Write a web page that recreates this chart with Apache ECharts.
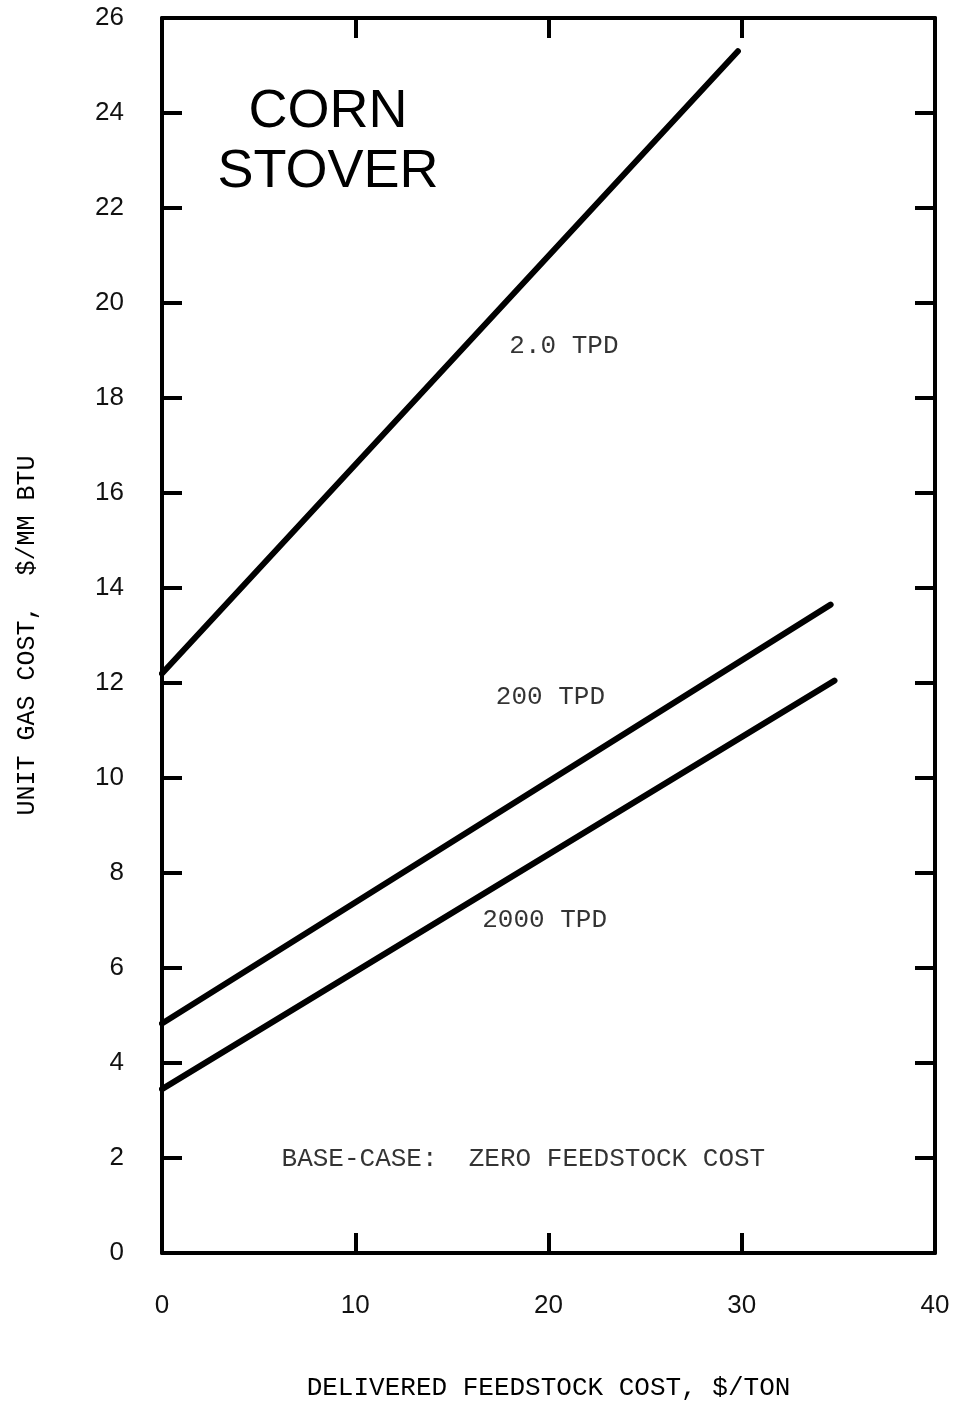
<!DOCTYPE html>
<html>
<head>
<meta charset="utf-8">
<script src="https://cdn.jsdelivr.net/npm/echarts@6/dist/echarts.min.js"></script>
<style>
html,body{margin:0;padding:0;background:#fff;}
#chart{width:955px;height:1406px;}
</style>
</head>
<body>
<div id="chart"></div>
<script>
// ---- data ----
var xTicks = [0, 10, 20, 30, 40];
var yTicks = [0, 2, 4, 6, 8, 10, 12, 14, 16, 18, 20, 22, 24, 26];
var seriesNames = ['2.0 TPD', '200 TPD', '2000 TPD'];
var line2TPD = [[0, 12.2], [29.8, 25.3]];
var line200TPD = [[0, 4.83], [34.6, 13.65]];
var line2000TPD = [[0, 3.45], [34.8, 12.05]];
var annotationTexts = ['2.0 TPD', '200 TPD', '2000 TPD', 'BASE-CASE:  ZERO FEEDSTOCK COST'];
var annotationX = [20.8, 20.1, 19.8, 18.7];
var annotationY = [19.1, 11.7, 7.0, 1.98];
var titleLines = ['CORN', 'STOVER'];
var xAxisTitle = 'DELIVERED FEEDSTOCK COST, $/TON';
var yAxisTitle = 'UNIT GAS COST,  $/MM BTU';

var mono = '"Liberation Mono", "DejaVu Sans Mono", monospace';
var sans = '"Liberation Sans", Arial, sans-serif';

var chart = echarts.init(document.getElementById('chart'));

var axisLine = {show: true, onZero: false, lineStyle: {color: '#000', width: 4}};
var tick = {show: true, inside: true, length: 20, lineStyle: {color: '#000', width: 4}};

var annData = annotationTexts.map(function (t, i) {
  return {name: t, value: [annotationX[i], annotationY[i]]};
});

var option = {
  backgroundColor: '#fff',
  animation: false,
  grid: {left: 162, right: 20, top: 18, bottom: 151, containLabel: false},
  xAxis: [{
    type: 'value', min: xTicks[0], max: xTicks[xTicks.length - 1], interval: 10,
    position: 'bottom',
    axisLine: axisLine, axisTick: tick, splitLine: {show: false},
    axisLabel: {margin: 40, fontSize: 26, color: '#111', fontFamily: sans},
    name: xAxisTitle, nameLocation: 'middle', nameGap: 122,
    nameTextStyle: {fontSize: 26, color: '#000', fontFamily: mono}
  }, {
    type: 'value', min: xTicks[0], max: xTicks[xTicks.length - 1], interval: 10,
    position: 'top',
    axisLine: axisLine, axisTick: tick, splitLine: {show: false},
    axisLabel: {show: false}
  }],
  yAxis: [{
    type: 'value', min: yTicks[0], max: yTicks[yTicks.length - 1], interval: 2,
    position: 'left',
    axisLine: axisLine, axisTick: tick, splitLine: {show: false},
    axisLabel: {margin: 38, fontSize: 26, color: '#111', fontFamily: sans},
    name: yAxisTitle, nameLocation: 'middle', nameGap: 122, nameRotate: 90,
    nameTextStyle: {fontSize: 25, color: '#000', fontFamily: mono}
  }, {
    type: 'value', min: yTicks[0], max: yTicks[yTicks.length - 1], interval: 2,
    position: 'right',
    axisLine: axisLine, axisTick: tick, splitLine: {show: false},
    axisLabel: {show: false}
  }],
  series: [
    {name: seriesNames[0], type: 'line', data: line2TPD, symbol: 'none',
     lineStyle: {color: '#000', width: 6, cap: 'round'}},
    {name: seriesNames[1], type: 'line', data: line200TPD, symbol: 'none',
     lineStyle: {color: '#000', width: 6, cap: 'round'}},
    {name: seriesNames[2], type: 'line', data: line2000TPD, symbol: 'none',
     lineStyle: {color: '#000', width: 6, cap: 'round'}},
    {type: 'scatter', data: annData, symbolSize: 0, silent: true,
     label: {show: true, position: 'inside', formatter: '{b}', fontSize: 26,
             color: '#000', textBorderWidth: 0, fontFamily: mono}}
  ],
  graphic: [{
    type: 'text', x: 328, y: 82,
    style: {text: titleLines.join('\n'), font: '54px ' + sans, fill: '#000',
            textAlign: 'center', lineHeight: 60}
  }]
};
chart.setOption(option);
</script>
</body>
</html>
